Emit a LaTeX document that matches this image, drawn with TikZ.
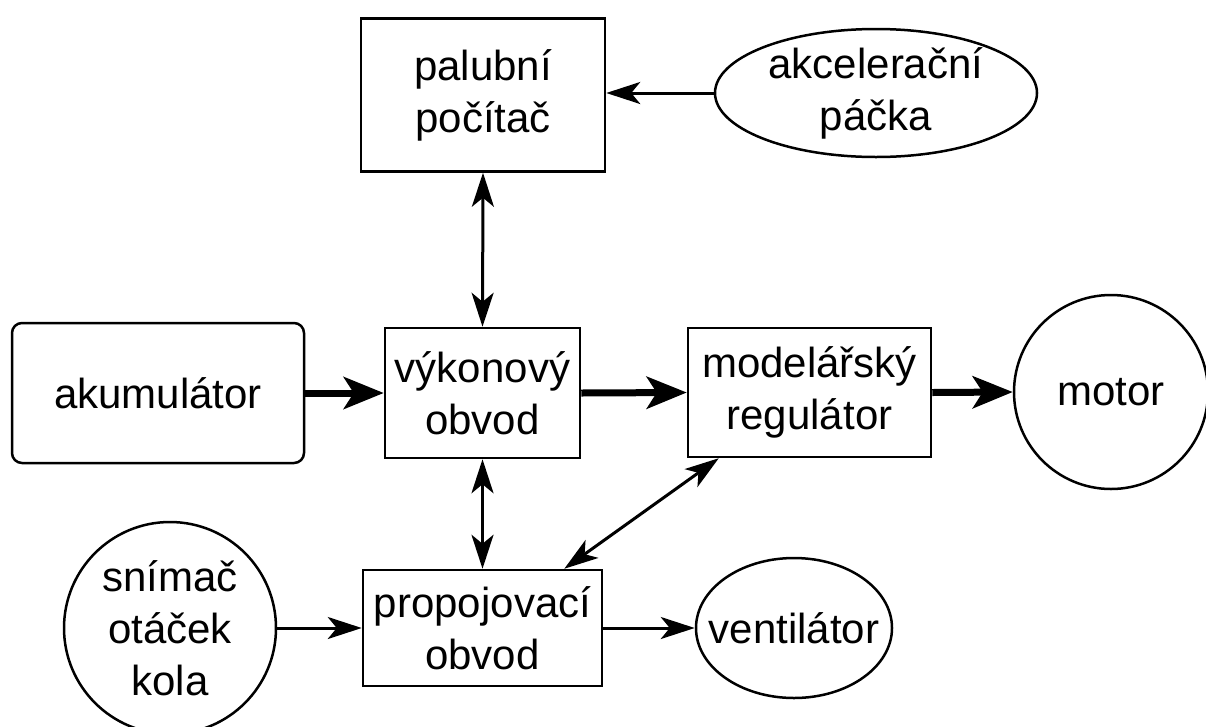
\documentclass[tikz,border=0pt]{standalone}
\usepackage{fontspec}
\setmainfont{Liberation Sans}
\usetikzlibrary{arrows.meta,shapes.geometric,calc}
\begin{document}
\begin{tikzpicture}[x=1pt,y=-1pt,
  every node/.style={font=\fontsize{42pt}{52pt}\selectfont, align=center, inner sep=0pt},
  box/.style={draw, line width=2.5pt, rectangle},
  rbox/.style={draw, line width=2.5pt, rectangle, rounded corners=10pt},
  ell/.style={draw, line width=2.5pt, ellipse},
  circ/.style={draw, line width=2.5pt, circle},
  thinarrow/.style={line width=3pt, -{Stealth[length=34pt,width=22pt,inset=9pt]}},
  thickarrow/.style={line width=7pt, -{Stealth[length=40pt,width=32pt,inset=10pt]}},
  twoarrow/.style={line width=3pt, {Stealth[length=34pt,width=22pt,inset=9pt]}-{Stealth[length=34pt,width=22pt,inset=9pt]}}
]
\useasboundingbox (0,0) rectangle (1206,726);

\node[box, minimum width=244pt, minimum height=153pt] (pal) at (483,95) {palubní\\počítač};
\node[ell, minimum width=322pt, minimum height=128pt,
      label={center:{akcelerační\\páčka}}] (akc) at (876,93) {};
\node[rbox, minimum width=292pt, minimum height=140pt] (aku) at (158,393) {akumulátor};
\node[box, minimum width=195pt, minimum height=130pt] (vyk) at (482.5,393) {výkonový\\obvod};
\node[box, minimum width=243pt, minimum height=129pt] (reg) at (809.5,392.5) {modelářský\\regulátor};
\node[circ, minimum size=194pt, label={center:motor}] (mot) at (1111,392) {};
\node[circ, minimum size=212pt, label={center:{snímač\\otáček\\kola}}] (sni) at (170,628) {};
\node[box, minimum width=239pt, minimum height=116pt] (pro) at (482.5,628) {propojovací\\obvod};
\node[ell, minimum width=196pt, minimum height=140pt, label={center:ventilátor}] (ven) at (794,628) {};

\draw[thinarrow] (akc.west) -- (pal.east |- akc.west);
\draw[twoarrow] (pal.south) -- (vyk.north);
\draw[thickarrow] (aku.east) -- (vyk.west);
\draw[thickarrow] (vyk.east) -- (reg.west);
\draw[thickarrow] (reg.east) -- (mot.west);
\draw[twoarrow] (vyk.south) -- (pro.north);
\draw[twoarrow] ($(reg.south west)+(32,0)$) -- ($(pro.north east)+(-39,0)$);
\draw[thinarrow] (sni.east) -- (pro.west);
\draw[thinarrow] (pro.east) -- (ven.west);
\end{tikzpicture}
\end{document}
